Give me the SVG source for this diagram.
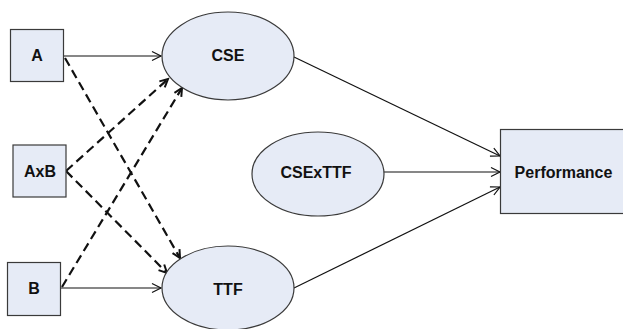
<svg xmlns="http://www.w3.org/2000/svg" width="623" height="329" viewBox="0 0 623 329">
<style>
.node{fill:#e6ebf6;stroke:#3a3a3a;stroke-width:1.2}
.lbl{font-family:"Liberation Sans",Arial,sans-serif;font-weight:bold;font-size:16px;fill:#111;text-anchor:middle;dominant-baseline:central}
.solid{stroke:#111;stroke-width:1.2;fill:none;marker-end:url(#arr)}
.dash{stroke:#111;stroke-width:2.2;fill:none;stroke-dasharray:9,5;marker-end:url(#arrd)}
</style>
<defs>
<marker id="arr" markerUnits="userSpaceOnUse" markerWidth="14" markerHeight="12" viewBox="-11 -6 12 12" refX="0" refY="0" orient="auto">
<path d="M-9,-4.5 L0,0 L-9,4.5" fill="none" stroke="#111" stroke-width="1.2"/>
</marker>
<marker id="arrd" markerUnits="userSpaceOnUse" markerWidth="14" markerHeight="12" viewBox="-11 -6 12 12" refX="0" refY="0" orient="auto">
<path d="M-8,-4 L0,0 L-8,4" fill="none" stroke="#111" stroke-width="2"/>
</marker>
</defs>
<g id="connectors">
<line class="solid" x1="63" y1="56" x2="161" y2="56"/>
<line class="solid" x1="61" y1="288" x2="161" y2="288"/>
<line class="solid" x1="294" y1="57" x2="500" y2="156"/>
<line class="solid" x1="384" y1="172" x2="500" y2="172"/>
<line class="solid" x1="294" y1="288" x2="500" y2="187"/>
<line class="dash" x1="65" y1="58" x2="180" y2="258"/>
<line class="dash" x1="66" y1="171" x2="168" y2="79"/>
<line class="dash" x1="62" y1="287" x2="182" y2="88"/>
<line class="dash" x1="66" y1="171" x2="167" y2="273"/>
</g>
<g id="A"><rect class="node" x="10.5" y="29.5" width="53" height="52"/><text class="lbl" x="37" y="55">A</text></g>
<g id="AxB"><rect class="node" x="13" y="145" width="53" height="52"/><text class="lbl" x="40" y="171">AxB</text></g>
<g id="B"><rect class="node" x="7.5" y="262.5" width="53" height="53"/><text class="lbl" x="34" y="288">B</text></g>
<g id="CSE"><ellipse class="node" cx="228" cy="56" rx="66" ry="44"/><text class="lbl" x="228" y="55">CSE</text></g>
<g id="CSExTTF"><ellipse class="node" cx="318" cy="174" rx="66" ry="42"/><text class="lbl" x="316" y="172">CSExTTF</text></g>
<g id="TTF"><ellipse class="node" cx="228" cy="288" rx="66" ry="42"/><text class="lbl" x="228" y="289">TTF</text></g>
<g id="Performance"><rect class="node" x="500.5" y="129.5" width="126" height="84"/><text class="lbl" x="563.5" y="172">Performance</text></g>
</svg>
